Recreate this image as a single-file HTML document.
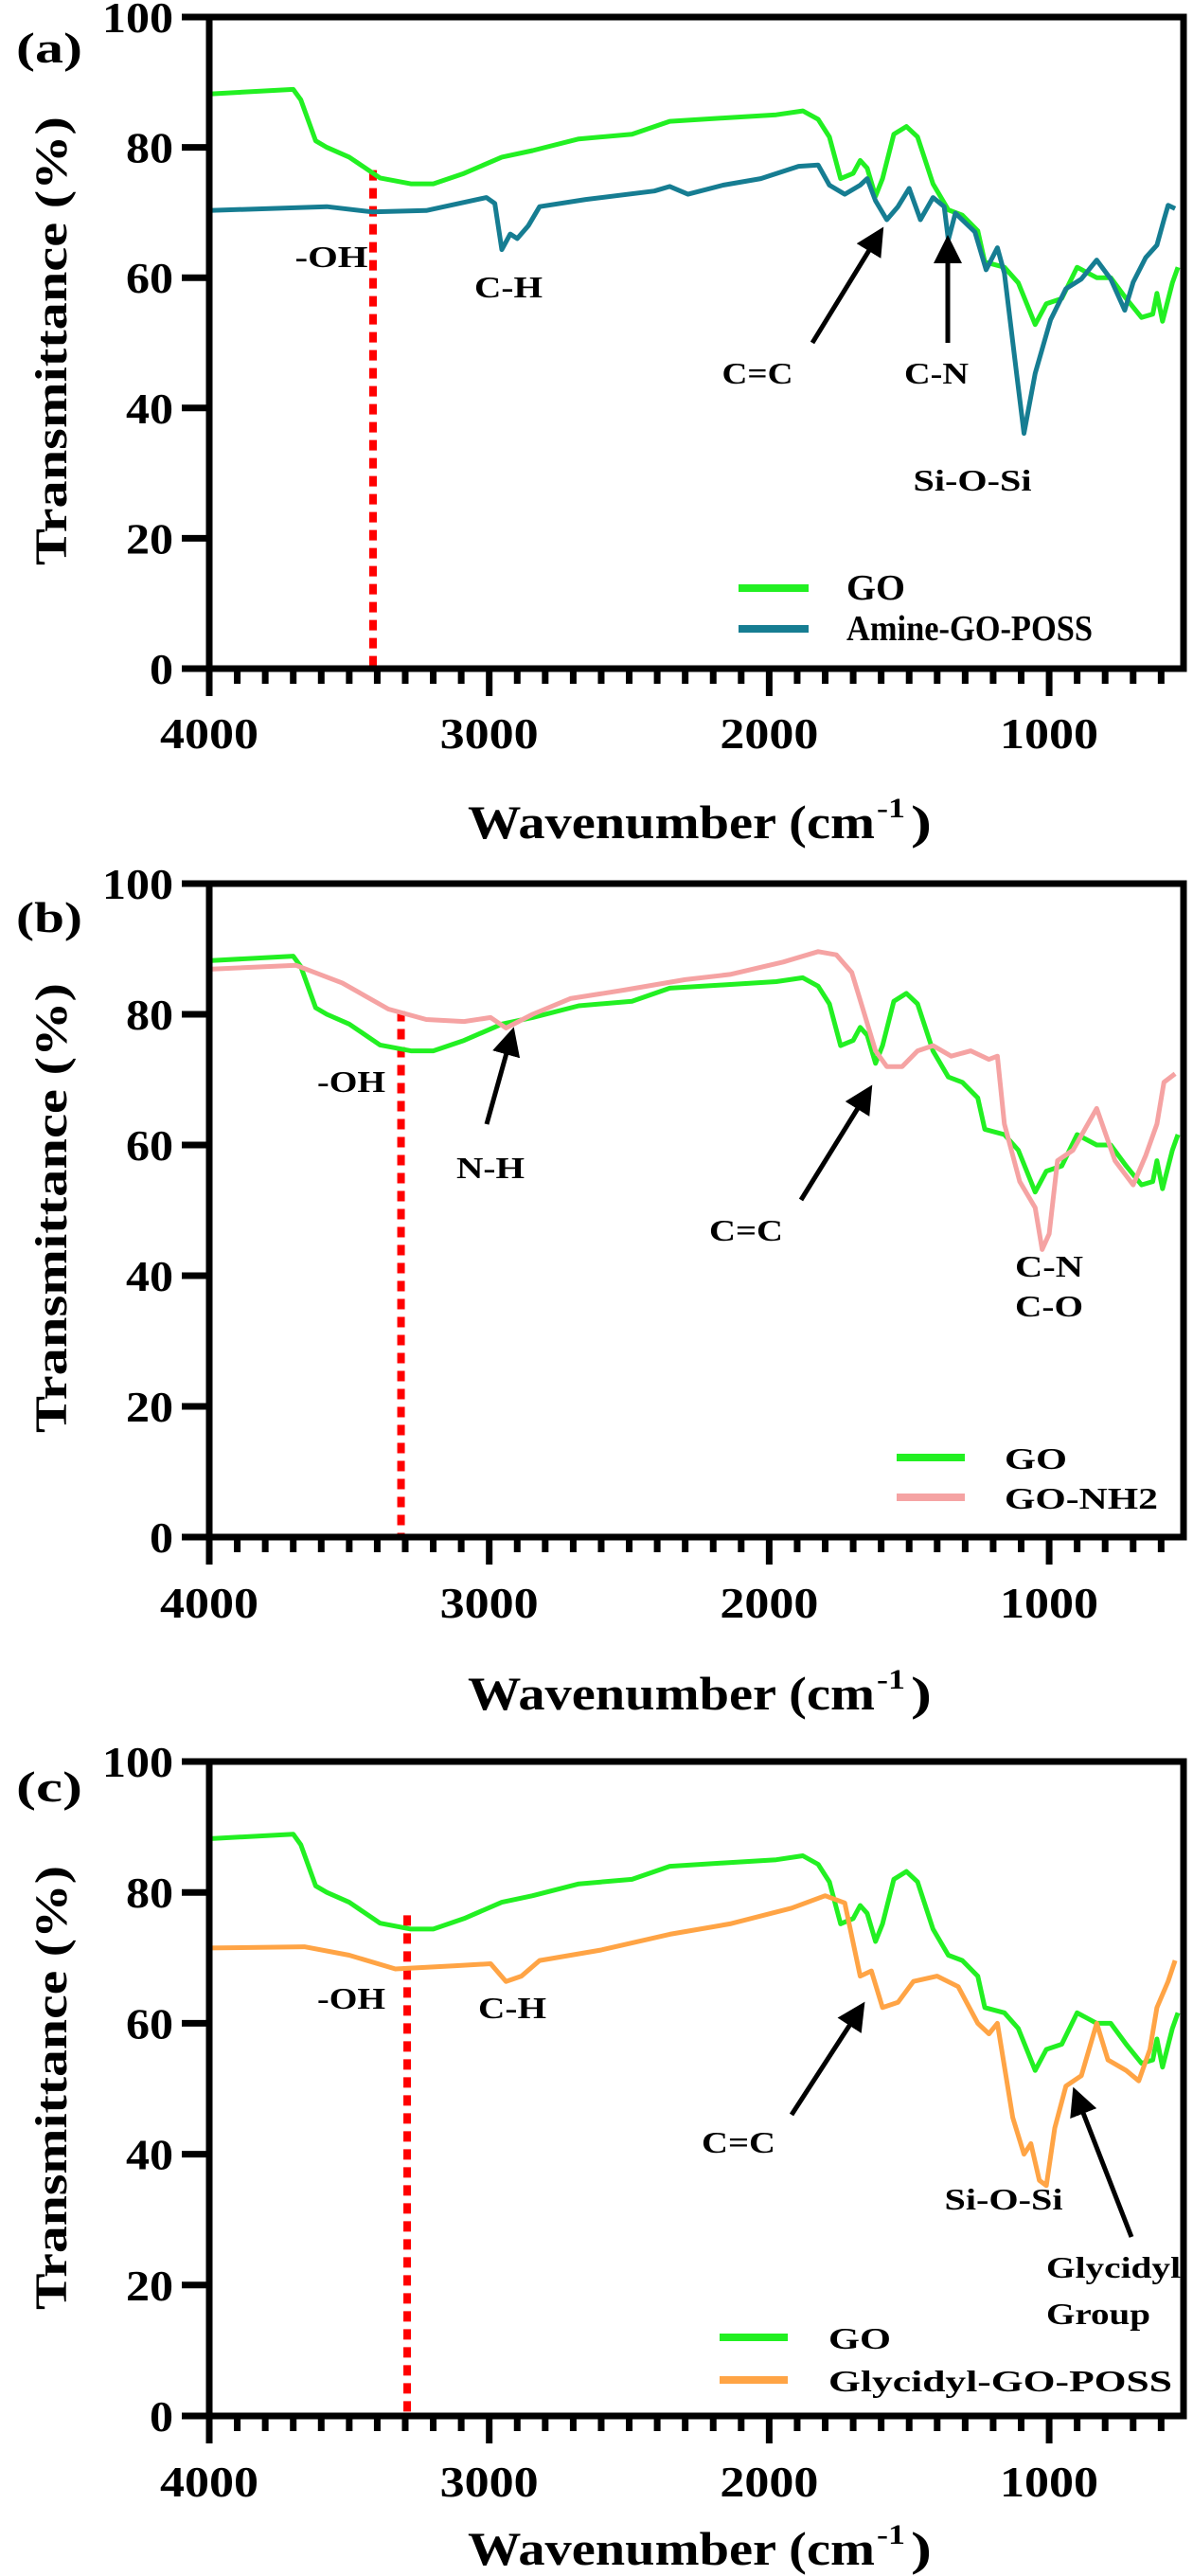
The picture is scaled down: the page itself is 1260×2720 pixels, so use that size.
<!DOCTYPE html>
<html><head><meta charset="utf-8">
<style>
html,body{margin:0;padding:0;background:#fff;}
svg{display:block;font-family:"Liberation Serif",serif;font-weight:bold;}
</style></head>
<body>
<svg id="fig" width="1260" height="2720" viewBox="0 0 1260 2720" xmlns="http://www.w3.org/2000/svg"></svg>
<script>
// ---- data (wavenumber cm-1, transmittance %) ----
const goWave = [4000,3700,3673,3620,3580,3500,3390,3280,3200,3090,2955,2845,2680,2490,2355,2165,1975,1880,1825,1785,1745,1700,1675,1650,1620,1595,1555,1510,1470,1415,1360,1310,1255,1230,1160,1110,1050,1010,955,900,830,780,725,670,630,615,595,560,540];
const goTrans = [88.2,88.9,87.3,81,80,78.5,75.3,74.4,74.4,76,78.5,79.5,81.3,82,84,84.5,85,85.6,84.3,81.6,75.2,76,78,76.8,72.5,75.2,82,83.2,81.6,74.4,70.4,69.6,67.2,62.4,61.6,59.2,52.8,56,56.8,61.6,60,60,56.8,53.9,54.4,57.6,53.3,59.2,61.6];
const amineWave = [4000,3580,3420,3225,3010,2980,2955,2925,2900,2860,2820,2655,2410,2355,2290,2165,2030,1895,1825,1785,1730,1675,1650,1620,1580,1540,1500,1460,1415,1375,1360,1335,1265,1225,1185,1160,1115,1090,1050,995,940,885,830,780,730,700,655,615,590,575,550];
const amineTrans = [70.3,70.9,70.1,70.3,72.3,71.4,64.3,66.7,66,68,70.9,72,73.3,74,72.8,74.2,75.2,77.1,77.3,74.2,72.8,74.2,75.2,71.8,68.9,70.9,73.7,68.9,72.3,70.9,65.8,69.9,67,61.2,64.6,60.7,44.8,36.1,45.3,53.5,58.3,59.8,62.7,59.8,55,59.3,63.1,65,68.9,71.1,70.6];
const nh2Wave = [4000,3690,3525,3360,3225,3090,2995,2940,2845,2710,2520,2300,2140,1950,1825,1760,1705,1665,1620,1580,1525,1470,1415,1350,1280,1215,1185,1160,1105,1050,1025,1000,970,915,830,765,700,655,615,590,550];
const nh2Trans = [86.9,87.5,84.8,80.8,79.2,78.9,79.5,77.9,80,82.4,83.7,85.3,86.1,88,89.6,89.1,86.4,80.8,74.4,72,72,74.4,75.2,73.6,74.4,73.1,73.6,63.2,54.4,50.4,44,46.4,57.6,59.2,65.6,57.6,53.9,58.4,63.2,69.6,70.9];
const glyWave = [4000,3660,3500,3335,3120,2995,2940,2885,2820,2600,2355,2140,1920,1800,1730,1675,1635,1595,1540,1485,1400,1325,1255,1215,1185,1130,1090,1065,1035,1010,980,940,885,830,790,725,680,640,615,575,550];
const glyTrans = [71.5,71.7,70.4,68.3,68.8,69.1,66.4,67.2,69.6,71.2,73.6,75.2,77.6,79.5,78.4,67.2,68,62.4,63.2,66.4,67.2,65.6,60,58.4,60,45.6,40,41.6,36,35.2,44,50.4,52,60,54.4,52.8,51.2,56,62.4,66.4,69.6];
const yTicks = [0,20,40,60,80,100];
const yTickLabels = ["0","20","40","60","80","100"];
const xTicks = [4000,3000,2000,1000];
const xTickLabels = ["4000","3000","2000","1000"];
const markerLines = [3415,3315,3293];
const markerTops = [76.5,80.5,76.5];

const NS = "http://www.w3.org/2000/svg";
const svg = document.getElementById('fig');
function el(tag, attrs, parent){
  const e = document.createElementNS(NS, tag);
  for (const k in attrs) e.setAttribute(k, attrs[k]);
  (parent||svg).appendChild(e);
  return e;
}
function txt(parent, s, x, y, size, anchor, len, rot){
  const t = el('text', {x:x, y:y, 'font-size':size, 'text-anchor':anchor||'start', fill:'#000'}, parent);
  if (len){ t.setAttribute('textLength', len); t.setAttribute('lengthAdjust','spacingAndGlyphs'); }
  if (rot) t.setAttribute('transform', rot);
  t.textContent = s;
  return t;
}
const X0 = 221, X1 = 1250, W0 = 4000, W1 = 520;

const panels = [
  {id:'a', top:18, bottom:706, label:'(a)', labelY:52, xlabY:790, titleY:885, ytitle:[123,597],
   series:[{name:'GO',w:goWave,t:goTrans,c:'#22f022'},{name:'Amine-GO-POSS',w:amineWave,t:amineTrans,c:'#167d92'}],
   legend:{x1:780,x2:854,y:[621,664],tx:894,lens:[62,260],size:38},
   notes:[['-OH',350,282,77],['C-H',537,314,72],['C=C',800,405,75],['C-N',989,405,68],['Si-O-Si',1027,518,125]],
   arrows:[[858,362,928,248],[1001,362,1001,258]]},
  {id:'b', top:933, bottom:1623, label:'(b)', labelY:970, xlabY:1708, titleY:1805, ytitle:[1038,1513],
   series:[{name:'GO',w:goWave,t:goTrans,c:'#22f022'},{name:'GO-NH2',w:nh2Wave,t:nh2Trans,c:'#f5a3a3'}],
   legend:{x1:947,x2:1019,y:[1539,1581],tx:1061,lens:[66,162],size:32},
   notes:[['-OH',371,1153,72],['N-H',518,1244,72],['C=C',788,1310,78],['C-N',1108,1348,72],['C-O',1108,1390,72]],
   arrows:[[514,1187,540,1094],[846,1267,916,1154]]},
  {id:'c', top:1860, bottom:2551, label:'(c)', labelY:1888, xlabY:2636, titleY:2708, ytitle:[1970,2439],
   series:[{name:'GO',w:goWave,t:goTrans,c:'#22f022'},{name:'Glycidyl-GO-POSS',w:glyWave,t:glyTrans,c:'#ffa445'}],
   legend:{x1:760,x2:832,y:[2468,2513],tx:875,lens:[66,363],size:32},
   notes:[['-OH',371,2121,72],['C-H',541,2131,72],['C=C',780,2273,78],['Si-O-Si',1060,2333,125],['Glycidyl',1105,2405,142,'start'],['Group',1105,2454,110,'start']],
   arrows:[[836,2233,908,2122],[1195,2362,1137,2213]]}
];

el('defs',{}).innerHTML = '<marker id="ah" markerWidth="6" markerHeight="6" refX="4" refY="3" orient="auto" markerUnits="strokeWidth"><path d="M0,0 L6,3 L0,6 z" fill="#000"/></marker>';

panels.forEach((p, pi) => {
  const g = el('g', {});
  
  
  const sx = w => X0 + (W0 - w) / (W0 - W1) * (X1 - X0);
  const sy = v => p.bottom - v / 100 * (p.bottom - p.top);

  // marker line
  const ml = el('line', {x1:sx(markerLines[pi]), x2:sx(markerLines[pi]), y1:sy(markerTops[pi]), y2:p.bottom,
    stroke:'#ff0000','stroke-width':8,'stroke-dasharray':'11,8'}, g);
  
  

  // series
  p.series.forEach(s => {
    const d = s.w.map((w,i) => (i?'L':'M') + sx(w).toFixed(1) + ',' + sy(s.t[i]).toFixed(1)).join(' ');
    const path = el('path', {d:d, fill:'none', stroke:s.c, 'stroke-width':5, 'stroke-linejoin':'round'}, g);
    
    
  });

  // frame
  const fr = el('rect', {x:X0, y:p.top, width:X1-X0, height:p.bottom-p.top, fill:'none', stroke:'#000', 'stroke-width':7}, g);
  
  

  // y ticks
  yTicks.forEach((v,i) => {
    el('line', {x1:192, x2:X0, y1:sy(v), y2:sy(v), stroke:'#000', 'stroke-width':7}, g);
    const lab = txt(g, yTickLabels[i], 183, sy(v)+16, 46, 'end', yTickLabels[i].length*25);
    
    
  });
  // x minor ticks
  for (let w = 3900; w >= 600; w -= 100) {
    if (w % 1000 === 0) continue;
    el('line', {x1:sx(w), x2:sx(w), y1:p.bottom, y2:p.bottom+16, stroke:'#000', 'stroke-width':7}, g);
  }
  xTicks.forEach((w,i) => {
    el('line', {x1:sx(w), x2:sx(w), y1:p.bottom, y2:p.bottom+29, stroke:'#000', 'stroke-width':7}, g);
    const lab = txt(g, xTickLabels[i], sx(w), p.xlabY, 46, 'middle', 104);
    
    
  });

  const xt = txt(g, 'Wavenumber (cm', 494, p.titleY, 50, 'start', 430);
  
  
  const sup = txt(g, '-1', 926, p.titleY-22, 30, 'start', 30);
  
  
  const cp = txt(g, ')', 962, p.titleY, 50, 'start', 22);
  
  

  const yc = (p.ytitle[0]+p.ytitle[1])/2;
  const yt = txt(g, 'Transmittance (%)', 70, yc, 48, 'middle', p.ytitle[1]-p.ytitle[0], 'rotate(-90 70 '+yc+')');
  
  

  const pl = txt(g, p.label, 52, p.labelY+14, 46, 'middle', 70);
  
  

  // legend
  p.series.forEach((s,i) => {
    const ln = el('line', {x1:p.legend.x1, x2:p.legend.x2, y1:p.legend.y[i], y2:p.legend.y[i], stroke:s.c, 'stroke-width':8}, g);
    
    
    const lt = txt(g, s.name, p.legend.tx, p.legend.y[i]+12, p.legend.size, 'start', p.legend.lens[i]);
    
    
  });

  // annotations
  p.notes.forEach(n => {
    const t = txt(g, n[0], n[1], n[2], 32, n[4]||'middle', n[3]);
    
    
  });
  p.arrows.forEach(a => {
    const ar = el('line', {x1:a[0], y1:a[1], x2:a[2], y2:a[3], stroke:'#000', 'stroke-width':5, 'marker-end':'url(#ah)'}, g);
    
    
  });
});
</script>
</body></html>
